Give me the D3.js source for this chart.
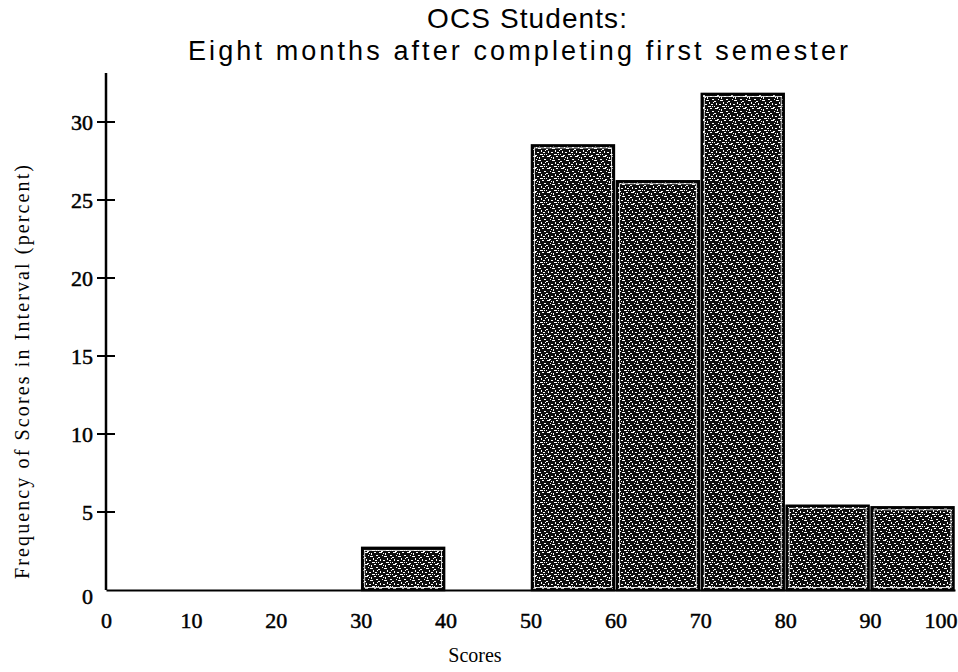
<!DOCTYPE html>
<html>
<head>
<meta charset="utf-8">
<script src="https://cdn.jsdelivr.net/npm/d3@7"></script>
<style>
  html, body { margin: 0; padding: 0; background: #fff; }
  svg { display: block; }
</style>
</head>
<body>
<svg id="chart" width="958" height="672"></svg>
<script>
// ---- data ----
const binStarts = [0, 10, 20, 30, 40, 50, 60, 70, 80, 90];
const binWidth = 10;
const frequencies = [0, 0, 0, 2.7, 0, 28.5, 26.2, 31.8, 5.4, 5.3];
const xTickValues = [0, 10, 20, 30, 40, 50, 60, 70, 80, 90, 100];
const yTickValues = [0, 5, 10, 15, 20, 25, 30];
const titleText = "OCS Students:";
const subtitleText = "Eight months after completing first semester";
const xLabel = "Scores";
const yLabel = "Frequency of Scores in Interval (percent)";

// ---- layout ----
const svg = d3.select("#chart");
const x = d3.scaleLinear().domain([0, 100]).range([106, 955]);
const y = d3.scaleLinear().domain([0, 30]).range([590, 122]);
const yTop = 73;
const serif = "'Liberation Serif', 'DejaVu Serif', serif";
const sans = "'Liberation Sans', Arial, sans-serif";

// texture pattern for bars (fixed, hand-laid speckle)
const defs = svg.append("defs");
const pat = defs.append("pattern")
  .attr("id", "speck").attr("patternUnits", "userSpaceOnUse")
  .attr("width", 14).attr("height", 12);
pat.append("rect").attr("width", 14).attr("height", 12).attr("fill", "#0d0d0d");
const specks = [
  [1,0,3,1],[7,1,1,2],[10,0,2,1],[4,3,1,1],[12,3,2,1],[0,5,2,1],
  [6,4,3,1],[9,6,1,2],[2,7,1,2],[11,8,2,1],[5,8,2,1],[0,10,1,1],
  [8,10,3,1],[13,6,1,1],[3,11,2,1],[5,1,1,1],[12,10,1,1]
];
specks.forEach(s => pat.append("rect")
  .attr("x", s[0]).attr("y", s[1]).attr("width", s[2]).attr("height", s[3])
  .attr("fill", "#fff"));

// bars
const bars = svg.append("g");
binStarts.forEach((b, i) => {
  const v = frequencies[i];
  if (v <= 0) return;
  const x0 = x(b), x1 = x(b + binWidth);
  bars.append("rect")
    .attr("x", x0 + 1.5).attr("y", y(v))
    .attr("width", x1 - x0 - 3).attr("height", y(0) - y(v))
    .attr("fill", "url(#speck)")
    .attr("stroke", "#000").attr("stroke-width", 2.5);
  bars.append("rect")
    .attr("x", x0 + 4).attr("y", y(v) + 2.5)
    .attr("width", x1 - x0 - 8).attr("height", y(0) - y(v) - 5)
    .attr("fill", "none")
    .attr("stroke", "#fff").attr("stroke-width", 0.8);
});

// y axis
const yAxis = d3.axisLeft(y).tickValues(yTickValues).tickSize(0).tickPadding(13)
  .tickFormat(d3.format("d"));
const gy = svg.append("g").attr("transform", `translate(${x(0)},0)`).call(yAxis);
gy.select(".domain").remove();
gy.selectAll("text")
  .attr("font-family", serif)
  .attr("font-size", 22).attr("fill", "#000")
  .attr("stroke", "#000").attr("stroke-width", 0.5);
gy.selectAll(".tick").filter(d => d === 0).select("text").attr("dy", "0.6em");
// crossing ticks
svg.append("g").selectAll("line").data(yTickValues.filter(d => d > 0)).join("line")
  .attr("x1", x(0) - 9).attr("x2", x(0) + 9)
  .attr("y1", d => y(d)).attr("y2", d => y(d))
  .attr("stroke", "#000").attr("stroke-width", 2);
svg.append("line")
  .attr("x1", x(0)).attr("x2", x(0)).attr("y1", yTop).attr("y2", y(0))
  .attr("stroke", "#000").attr("stroke-width", 2.5);

// x axis
const xAxis = d3.axisBottom(x).tickValues(xTickValues).tickSize(0).tickPadding(22)
  .tickFormat(d3.format("d"));
const gx = svg.append("g").attr("transform", `translate(0,${y(0)})`).call(xAxis);
gx.select(".domain").attr("stroke", "#000").attr("stroke-width", 2);
gx.selectAll("text")
  .attr("font-family", serif)
  .attr("font-size", 22).attr("fill", "#000")
  .attr("stroke", "#000").attr("stroke-width", 0.5);
gx.selectAll(".tick").filter(d => d === 100).select("text")
  .attr("text-anchor", "end").attr("x", 957 - x(100));

// axis labels
svg.append("text")
  .attr("x", 475).attr("y", 662).attr("text-anchor", "middle")
  .attr("font-family", serif)
  .attr("font-size", 20).text(xLabel);
svg.append("text")
  .attr("transform", "translate(29,372) rotate(-90)")
  .attr("text-anchor", "middle")
  .attr("font-family", serif)
  .attr("font-size", 20)
  .attr("textLength", 414).attr("lengthAdjust", "spacing")
  .text(yLabel);

// titles
svg.append("text")
  .attr("x", 527).attr("y", 28).attr("text-anchor", "middle")
  .attr("font-family", sans)
  .attr("font-size", 28)
  .attr("textLength", 200).attr("lengthAdjust", "spacing")
  .text(titleText);
svg.append("text")
  .attr("x", 518).attr("y", 60).attr("text-anchor", "middle")
  .attr("font-family", sans)
  .attr("font-size", 27)
  .attr("textLength", 660).attr("lengthAdjust", "spacing")
  .text(subtitleText);
</script>
</body>
</html>
